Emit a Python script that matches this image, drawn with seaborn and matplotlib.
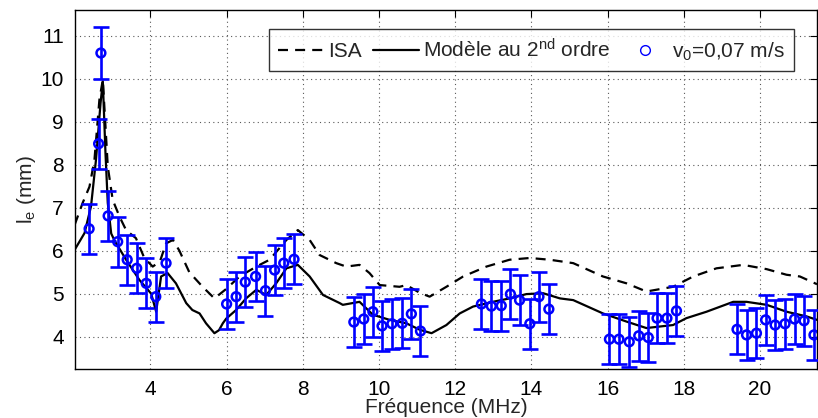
import numpy as np
import pandas as pd
import matplotlib
matplotlib.use("Agg")
import matplotlib.pyplot as plt
import seaborn as sns
from matplotlib.lines import Line2D

# ---- data ----
freq_meas = [2.39, 2.64, 2.70, 2.89, 3.14, 3.39, 3.64, 3.89, 4.14, 4.41,
             6.00, 6.25, 6.49, 6.76, 7.02, 7.26, 7.50, 7.77,
             9.34, 9.60, 9.84, 10.08, 10.34, 10.61, 10.85, 11.09,
             12.69, 12.95, 13.21, 13.45, 13.69, 13.96, 14.20, 14.46,
             16.05, 16.30, 16.57, 16.82, 17.07, 17.30, 17.56, 17.81,
             19.40, 19.65, 19.91, 20.15, 20.40, 20.66, 20.91, 21.16, 21.42]
le_meas = [6.51, 8.49, 10.60, 6.81, 6.21, 5.79, 5.59, 5.24, 4.93, 5.71,
           4.76, 4.93, 5.27, 5.40, 5.07, 5.55, 5.71, 5.80,
           4.34, 4.41, 4.58, 4.25, 4.30, 4.31, 4.53, 4.13,
           4.76, 4.71, 4.72, 4.99, 4.85, 4.30, 4.93, 4.64,
           3.94, 3.94, 3.88, 4.02, 3.98, 4.43, 4.43, 4.60,
           4.17, 4.04, 4.08, 4.39, 4.27, 4.30, 4.41, 4.37, 4.04]
err_meas = [0.58, 0.58, 0.60, 0.58, 0.58, 0.58, 0.58, 0.58, 0.58, 0.58,
            0.58, 0.58, 0.58, 0.58, 0.58, 0.58, 0.58, 0.58,
            0.58, 0.58, 0.58, 0.58, 0.58, 0.58, 0.58, 0.58,
            0.58, 0.58, 0.58, 0.58, 0.58, 0.58, 0.58, 0.58,
            0.58, 0.58, 0.58, 0.58, 0.58, 0.58, 0.58, 0.58,
            0.58, 0.58, 0.58, 0.58, 0.58, 0.58, 0.58, 0.58, 0.58]

freq_model = [2.01, 2.27, 2.44, 2.57, 2.69, 2.75, 2.82, 2.88, 2.97, 3.05,
              3.36, 3.71, 4.02, 4.15, 4.28, 4.45, 4.67, 4.94, 5.10, 5.29,
              5.46, 5.68, 5.80, 5.90, 5.99, 6.25, 6.51, 6.78, 7.04, 7.30,
              7.57, 7.87, 8.18, 8.53, 8.97, 9.05, 9.49, 9.84, 10.28, 10.72,
              11.07, 11.38, 11.77, 12.12, 12.47, 12.99, 13.43, 13.87, 14.31, 14.75,
              15.10, 15.88, 16.50, 17.02, 17.72, 18.07, 18.60, 19.30, 19.65, 20.18,
              20.70, 21.23, 21.50]
le_model = [6.02, 6.41, 7.03, 8.11, 9.43, 9.94, 8.27, 7.11, 6.40, 6.25,
            5.79, 5.32, 5.00, 4.58, 5.40, 5.48, 5.24, 4.78, 4.62, 4.54,
            4.31, 4.08, 4.15, 4.31, 4.42, 4.62, 4.89, 5.09, 4.97, 5.24,
            5.59, 5.67, 5.40, 4.97, 4.78, 4.74, 4.81, 4.51, 4.39, 4.31,
            4.16, 4.08, 4.27, 4.54, 4.70, 4.81, 4.89, 4.99, 5.01, 4.89,
            4.85, 4.54, 4.35, 4.20, 4.27, 4.43, 4.58, 4.81, 4.81, 4.74,
            4.58, 4.47, 4.39]

freq_isa = [2.01, 2.22, 2.40, 2.53, 2.66, 2.75, 2.88, 3.01, 3.19, 3.36,
            3.62, 3.84, 4.06, 4.25, 4.41, 4.59, 4.76, 5.02, 5.37, 5.68,
            5.99, 6.34, 6.78, 7.13, 7.57, 7.87, 8.18, 8.44, 8.88, 9.14,
            9.49, 9.75, 10.02, 10.54, 10.72, 11.07, 11.33, 11.77, 12.21, 12.82,
            13.43, 13.96, 14.48, 15.10, 15.88, 16.50, 17.02, 17.72, 18.25, 18.86,
            19.56, 20.18, 20.70, 21.05, 21.50]
le_isa = [6.60, 7.11, 7.49, 8.11, 9.51, 9.98, 7.96, 7.18, 6.79, 6.48,
          6.29, 5.83, 5.63, 5.75, 6.17, 6.25, 6.00, 5.50, 5.16, 4.89,
          5.11, 5.40, 5.63, 5.79, 6.25, 6.48, 6.25, 5.90, 5.71, 5.63,
          5.67, 5.48, 5.20, 5.16, 5.20, 5.02, 4.93, 5.16, 5.40, 5.63,
          5.79, 5.83, 5.79, 5.71, 5.40, 5.24, 5.05, 5.16, 5.40, 5.59,
          5.67, 5.57, 5.44, 5.40, 5.22]

x_ticks = [4, 6, 8, 10, 12, 14, 16, 18, 20]
y_ticks = [4, 5, 6, 7, 8, 9, 10, 11]

# ---- style ----
sns.set_style("white")
plt.rcParams['font.family'] = ['Liberation Sans', 'DejaVu Sans']
plt.rcParams['mathtext.default'] = 'regular'
plt.rcParams['font.size'] = 15

fig = plt.figure(figsize=(8.18, 4.18), dpi=100)
ax = fig.add_axes([0.0917, 0.1165, 0.9071, 0.8595])

df_isa = pd.DataFrame({"f": freq_isa, "le": le_isa})
df_mod = pd.DataFrame({"f": freq_model, "le": le_model})
df_meas = pd.DataFrame({"f": freq_meas, "le": le_meas, "err": err_meas})

sns.lineplot(data=df_isa, x="f", y="le", ax=ax, color="black", lw=1.6,
             linestyle=(0, (4.5, 3.2)), sort=False, label="ISA", zorder=3)
sns.lineplot(data=df_mod, x="f", y="le", ax=ax, color="black", lw=1.6,
             sort=False, label="Modèle au 2$^{nd}$ ordre", zorder=3)
ax.errorbar(df_meas["f"], df_meas["le"], yerr=df_meas["err"], fmt="none",
            ecolor=(0, 0, 1), elinewidth=1.9, capsize=5.5, capthick=1.9, zorder=4)
sns.scatterplot(data=df_meas, x="f", y="le", ax=ax, marker="o", s=40,
                facecolor="none", edgecolor=(0, 0, 1), linewidth=1.8, zorder=5,
                label="v$_0$=0,07 m/s")

ax.set_xlim(2.02, 21.5)
ax.set_ylim(3.24, 11.6)
ax.set_xticks(x_ticks)
ax.set_yticks(y_ticks)
ax.grid(True, linestyle=(0, (1, 3)), color="0.35", lw=0.8)
for s in ax.spines.values():
    s.set_color("black")
    s.set_linewidth(1.0)
ax.tick_params(direction="in", length=5, width=0.8, top=True, right=True,
               labelsize=15, colors="black", pad=8)
ax.set_xlabel("Fréquence (MHz)", fontsize=15, labelpad=-1)
ax.set_ylabel("l$_e$ (mm)", fontsize=15, labelpad=2)

handles, labels = ax.get_legend_handles_labels()
new_handles = []
for h, l in zip(handles, labels):
    if l.startswith("v"):
        new_handles.append(Line2D([], [], marker="o", linestyle="none",
                                  markerfacecolor="none", markeredgecolor=(0, 0, 1),
                                  markersize=7, markeredgewidth=1.0))
    else:
        new_handles.append(h)
leg = ax.legend(new_handles, labels, ncol=3, loc="upper left",
                bbox_to_anchor=(0.2618, 0.946), frameon=True, fancybox=False,
                edgecolor="black", fontsize=15, handlelength=2.2,
                columnspacing=0.55, handletextpad=0.2, borderpad=0.42,
                borderaxespad=0)
leg.get_frame().set_linewidth(1.0)

fig.savefig("out.png", dpi=100)
